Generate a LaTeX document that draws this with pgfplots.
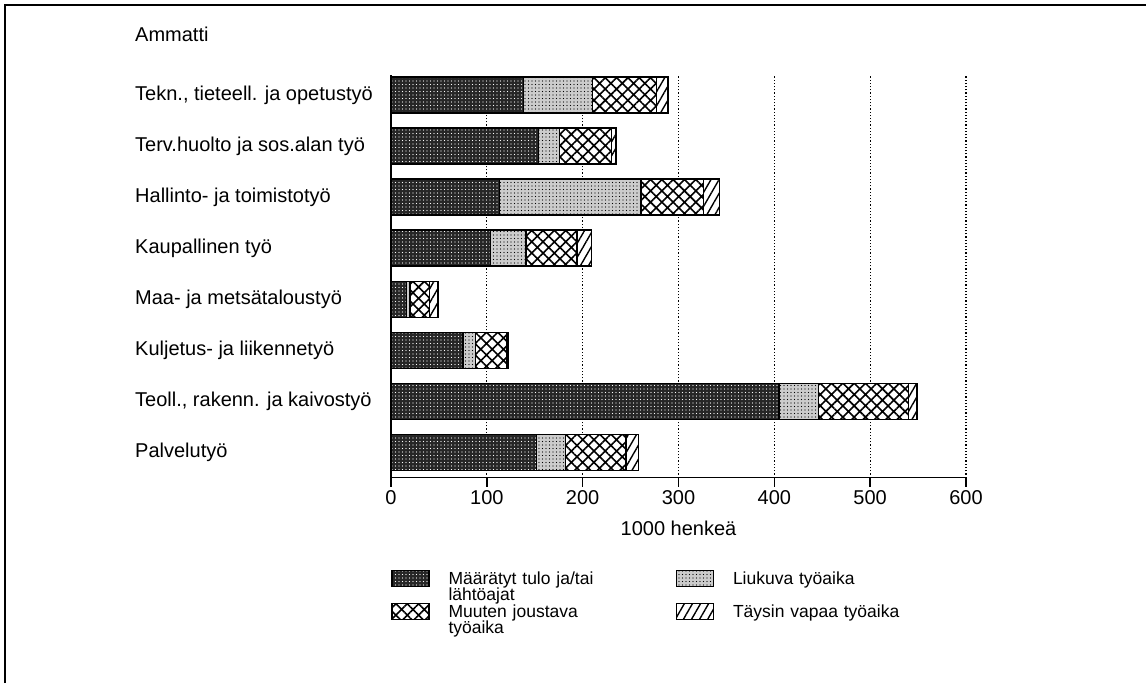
\documentclass[border=0pt]{standalone}
\usepackage{fontspec}
\setmainfont{Liberation Sans}
\usepackage{pgfplots}
\pgfplotsset{compat=1.18}
\usetikzlibrary{patterns.meta}
\begin{document}
\begin{tikzpicture}
\useasboundingbox (0,0) rectangle (1146pt,683pt);
\draw[line width=1.5pt] (5pt,0pt) -- (5pt,678pt) -- (1146pt,678pt);
\begin{axis}[
  at={(391pt,205.3pt)}, anchor=south west,
  scale only axis, width=575pt, height=402.7pt,
  clip=false,
  xbar stacked, bar width=36pt,
  xmin=0, xmax=600, ymin=-0.49, ymax=7.39,
  xtick={0,100,200,300,400,500,600},
  ytick={0,1,2,3,4,5,6,7},
  yticklabels={Palvelutyö,{Teoll., rakenn. ja kaivostyö},Kuljetus- ja liikennetyö,Maa- ja metsätaloustyö,Kaupallinen työ,Hallinto- ja toimistotyö,Terv.huolto ja sos.alan työ,{Tekn., tieteell. ja opetustyö}},
  axis x line=bottom, axis y line=left,
  axis line style={-, line width=1.5pt, black},
  tick align=outside, major tick length=9pt,
  xtick style={line width=1.5pt, black},
  ytick style={draw=none},
  xmajorgrids, grid style={black, line width=1.2pt, dash pattern=on 1.2pt off 2pt},
  /pgf/number format/assume math mode=true,
  tick label style={font=\fontsize{20}{24}\selectfont},
  yticklabel style={anchor=west, inner sep=0pt, xshift=-247pt},
  xlabel={1000 henkeä},
  xlabel style={font=\fontsize{20}{24}\selectfont, at={(axis description cs:0.5,-0.125)}, anchor=center},
  legend columns=2,
  legend style={at={(axis description cs:0,-0.229)}, anchor=north west, draw=none, inner sep=0pt, outer sep=0pt,
    column sep=19pt, row sep=15.5pt,
    nodes={inner sep=0pt, text width=208pt, align=left, anchor=base west, font=\fontsize{17.5}{16}\selectfont,
      execute at begin node={\lineskiplimit=-100pt\relax}}},
  legend image code/.code={\draw[#1, line width=1.5pt] (0pt,-2pt) rectangle (37pt,14pt);},
  every axis plot/.append style={draw=black, line width=1.5pt},
]
\addplot[fill=black!85, postaction={pattern={Dots[radius=0.7pt,distance=3.5pt]}, pattern color=white}] coordinates {
 (152,0) (405,1) (75,2) (16,3) (104,4) (113,5) (154,6) (138,7)};
\addlegendentry{Määrätyt tulo ja/tai\\lähtöajat}
\addplot[fill=black!20, postaction={pattern={Dots[radius=0.6pt,distance=3.5pt]}, pattern color=black}] coordinates {
 (30,0) (41,1) (13,2) (4,3) (37,4) (148,5) (22,6) (72,7)};
\addlegendentry{Liukuva työaika}
\addplot[fill=white, postaction={pattern={Hatch[angle=45,distance=8pt,line width=1.6pt]}, pattern color=black}] coordinates {
 (63,0) (94,1) (33,2) (20,3) (53,4) (65,5) (54,6) (67,7)};
\addlegendentry{Muuten joustava\\työaika}
\addplot[fill=white, postaction={pattern={Lines[angle=60,distance=7pt,line width=1.4pt]}, pattern color=black}] coordinates {
 (13,0) (9,1) (1,2) (9,3) (15,4) (17,5) (5,6) (12,7)};
\addlegendentry{Täysin vapaa työaika}
\node[anchor=base west, inner sep=0pt, font=\fontsize{20}{24}\selectfont] at (axis description cs:-0.4452,1.0844) {Ammatti};
\end{axis}
\end{tikzpicture}
\end{document}
